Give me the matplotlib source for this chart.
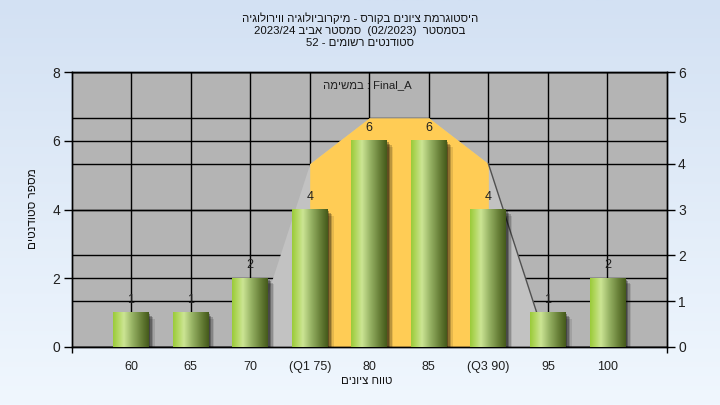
import numpy as np
import matplotlib
matplotlib.use("Agg")
import matplotlib.pyplot as plt
from matplotlib.colors import LinearSegmentedColormap
from matplotlib.patches import Rectangle
import matplotlib.transforms as mtrans

plt.rcParams['font.family'] = ['Liberation Sans', 'DejaVu Sans']

# ---------------- data ----------------
categories = ["60", "65", "70", "(Q1 75)", "80", "85", "(Q3 90)", "95", "100"]
counts = [1, 1, 2, 4, 6, 6, 4, 1, 2]
left_ticks = [0, 2, 4, 6, 8]
right_ticks = [0, 1, 2, 3, 4, 5, 6]
curve_labels = ["70", "(Q1 75)", "80", "85", "(Q3 90)", "95"]
curve_values = [0, 4, 5, 5, 4, 0]
q1_label, q3_label = "(Q1 75)", "(Q3 90)"

title_lines = [
    "היסטוגרמת ציונים בקורס - מיקרוביולוגיה ווירולוגיה",
    "בסמסטר  (02/2023)  סמסטר אביב 2023/24",
    "סטודנטים רשומים - 52",
]
x_title = "טווח ציונים"
y_title = "מספר סטודנטים"
task_note = "Final_A : במשימה"


def vis(s):
    """Simple RTL visual ordering for Hebrew text."""
    out = []
    for tok in reversed(s.split(' ')):
        if any('\u0590' <= c <= '\u05ff' for c in tok):
            tok = tok[::-1]
        out.append(tok)
    return ' '.join(out)


W, H = 720, 405
fig = plt.figure(figsize=(W / 100, H / 100), dpi=100)

# background gradient
bgax = fig.add_axes([0, 0, 1, 1], zorder=-10)
bg_cmap = LinearSegmentedColormap.from_list("bg", ["#d3e1f3", "#f0f7fe"])
bgax.imshow(np.linspace(0, 1, 256).reshape(-1, 1), aspect='auto', cmap=bg_cmap,
            extent=[0, 1, 0, 1], origin='upper')
bgax.axis('off')

L, R, T, B = 71.5, 667, 72, 347
ax = fig.add_axes([L / W, 1 - B / H, (R - L) / W, (B - T) / H])
ax2 = ax.twinx()
ax.set_zorder(ax2.get_zorder() + 1)
ax.patch.set_visible(False)
ax2.patch.set_visible(True)
ax2.set_facecolor('#b4b4b4')

x = np.arange(1, len(categories) + 1)
ax.set_xlim(0, len(categories) + 1)
ax.set_ylim(0, 8)
ax2.set_ylim(0, 6)

# grid lines (behind the curve)
ax2.vlines(x, 0, 1, transform=ax2.get_xaxis_transform(), colors='black', lw=1, zorder=1.5)
ax2.hlines(right_ticks, 0, 1, transform=ax2.get_yaxis_transform(), colors='black', lw=1, zorder=1.5)
ax2.hlines(left_ticks, 0, 1, transform=ax.get_yaxis_transform(), colors='black', lw=1, zorder=1.5)

# distribution curve
cx = [categories.index(l) + 1 for l in curve_labels]
ax2.fill_between(cx, 0, curve_values, color='#c2c2c2', lw=0, zorder=2)
i1, i3 = curve_labels.index(q1_label), curve_labels.index(q3_label)
ax2.fill_between(cx[i1:i3 + 1], 0, curve_values[i1:i3 + 1], color='#ffcc55', lw=0, zorder=2.1)
ax2.plot(cx[i3:i3 + 2], curve_values[i3:i3 + 2], color='#505050', lw=1, zorder=2.2)

# bars (cylinder style)
bar_cmap = LinearSegmentedColormap.from_list(
    "bar", [(0.0, '#9bcb3a'), (0.12, '#b0d65c'), (0.3, '#cce594'),
            (0.55, '#94b062'), (0.8, '#677f37'), (1.0, '#455a1b')])
w = 0.6
grad = np.linspace(0, 1, 64).reshape(1, -1)
for xi, hi in zip(x, counts):
    for k, (off, a) in enumerate([(1.5, 0.3), (3, 0.25), (4.5, 0.18), (6, 0.1)]):
        tr = ax.transData + mtrans.ScaledTranslation(off / 100, -off / 100, fig.dpi_scale_trans)
        ax.add_patch(Rectangle((xi - w / 2, 0), w, hi, transform=tr, facecolor='black',
                               alpha=a, lw=0, zorder=2.5))
    ax.imshow(grad, cmap=bar_cmap, extent=[xi - w / 2, xi + w / 2, 0, hi], aspect='auto',
              interpolation='bilinear', zorder=3)
    ax.annotate(str(hi), (xi, hi), xytext=(0, 5), textcoords='offset points',
                ha='center', va='bottom', fontsize=9, color='#202020', zorder=4)

ax.set_xlim(0, len(categories) + 1)
ax.set_ylim(0, 8)

# ticks
ax.set_xticks(x, categories)
ax.set_xticks([0, len(categories) + 1], minor=True)
ax.tick_params(axis='x', which='major', length=0, pad=10, labelsize=9, labelcolor='#202020')
ax.tick_params(axis='x', which='minor', length=4, width=1, direction='out')
ax.set_yticks(left_ticks)
ax.tick_params(axis='y', length=6, width=1, direction='out', pad=2, labelsize=10, labelcolor='#202020')
ax2.set_yticks(right_ticks)
ax2.tick_params(axis='y', length=6, width=1, direction='out', pad=2, labelsize=10, labelcolor='#202020')
for a in (ax, ax2):
    for s in a.spines.values():
        s.set_color('black')
        s.set_linewidth(1)

# texts
ax.text(0.497, 0.953, vis(task_note), transform=ax.transAxes, ha='center', va='center',
        fontsize=8.2, color='#202020', zorder=5)
for yy, line in zip([18, 31, 43], title_lines):
    fig.text(0.5, 1 - yy / H, vis(line), ha='center', va='center', fontsize=8.2, color='#101010')
fig.text(367 / W, 1 - 381 / H, vis(x_title), ha='center', va='center', fontsize=8.2, color='#101010')
fig.text(33 / W, 1 - 209 / H, vis(y_title), ha='center', va='center', rotation=90,
         fontsize=8.5, color='#101010')

fig.savefig("out.png", dpi=100)
